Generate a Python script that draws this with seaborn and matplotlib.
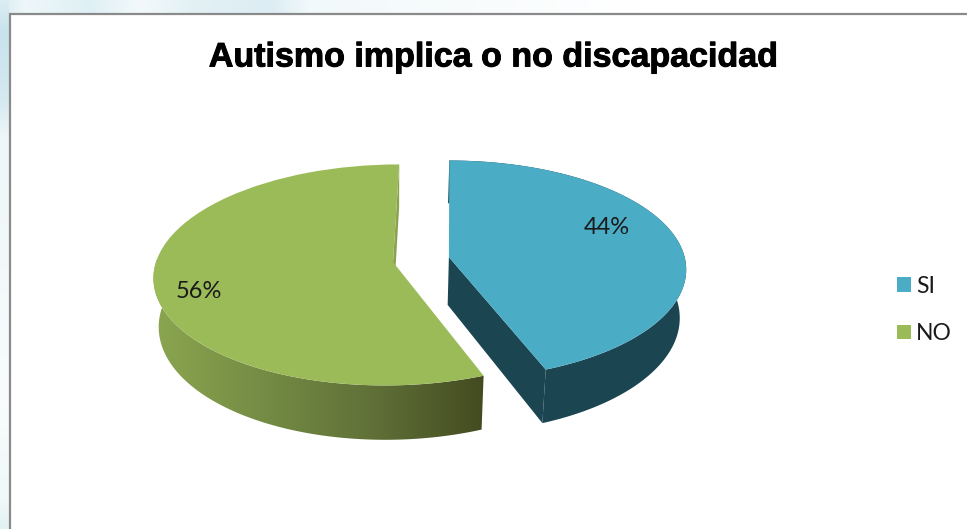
import numpy as np
import matplotlib
matplotlib.use("Agg")
import matplotlib.pyplot as plt
import matplotlib.patheffects as pe
from matplotlib.colors import LinearSegmentedColormap, to_rgb
from matplotlib.patches import Polygon
from matplotlib.transforms import Transform
import seaborn as sns

# Survey results
answers = ["SI", "NO"]
shares = [44, 56]
title = "Autismo implica o no discapacidad"

# Tilted-disc view, in pixels
CX, CY = 393.0, 262.0
RX, RY = 237.0, 109.0
PERSPECTIVE = 0.117
SHEAR = 7.0
DEPTH = 48.0
TAPER = 0.022
EXPLODE = 0.24


def project(u, v, z=0.0):
    w = 1.0 + PERSPECTIVE * np.asarray(v)
    scale = 1.0 - TAPER * z
    x = CX + (RX * np.asarray(u) + SHEAR * np.asarray(v)) * scale / w
    y = CY + (-RY * np.asarray(v) + DEPTH * z) / w
    return np.column_stack([np.ravel(x), np.ravel(y)])


class DiscProjection(Transform):
    input_dims = output_dims = 2

    def transform_non_affine(self, values):
        return project(values[:, 0], values[:, 1])


sns.set_theme(style="white")
palette = sns.color_palette(["#4bacc6", "#9bbb59"])
blue_side = "#1c4552"
green_face = "#8aa24d"
green_wall = LinearSegmentedColormap.from_list(
    "wall", ["#8ba650", "#748c44", "#5f7037", "#434b20"])

fig = plt.figure(figsize=(9.67, 5.29), dpi=100, facecolor="white")
ax = fig.add_axes([0, 0, 1, 1])

wedges, _, pct = ax.pie(
    shares, explode=[EXPLODE, 0], colors=palette, startangle=90, counterclock=False,
    autopct="%d%%", labels=None, wedgeprops={"linewidth": 0, "zorder": 5},
    textprops={"family": "Lato", "fontsize": 17, "color": "#1a1a1a", "zorder": 7},
)
ax.set_aspect("auto")
ax.set_xlim(0, 967)
ax.set_ylim(529, 0)
ax.set_axis_off()

to_data = DiscProjection() + ax.transData
for w in wedges:
    w.set_transform(to_data)


def rim(wedge, z):
    th = np.radians(np.linspace(wedge.theta1, wedge.theta2, 180))
    cu, cv = wedge.center
    return project(cu + np.cos(th), cv + np.sin(th), z)


def cut_face(wedge, angle):
    cu, cv = wedge.center
    eu, ev = cu + np.cos(np.radians(angle)), cv + np.sin(np.radians(angle))
    return np.vstack([project([cu, eu], [cv, ev], 0.0),
                      project([eu, cu], [ev, cv], 1.0)])


blue, green = wedges

# Blue slice walls: flat dark shade
ax.add_patch(Polygon(np.vstack([rim(blue, 0.0), rim(blue, 1.0)[::-1]]),
                     color=blue_side, lw=0, zorder=2))
ax.add_patch(Polygon(cut_face(blue, blue.theta1), color=blue_side, lw=0, zorder=2))

# Green slice walls: shaded from left to right
ax.add_patch(Polygon(cut_face(green, green.theta1), color=green_face, lw=0, zorder=2))
wall = Polygon(np.vstack([rim(green, 0.0), rim(green, 1.0)[::-1]]),
               facecolor="none", lw=0, transform=ax.transData)
ax.add_patch(wall)
img = ax.imshow(np.linspace(0, 1, 256)[None, :], cmap=green_wall, aspect="auto",
                extent=(152, 486, 440, 260), zorder=3, interpolation="bilinear")
img.set_clip_path(wall)

# Percentage labels
for text, xy in zip(pct, [(607, 228), (199, 292)]):
    text.set_position(xy)
    text.set_ha("center")
    text.set_va("center")

# Slide backdrop around the chart frame
def strip(stops, colours, n):
    pos = np.arange(n)
    rgb = np.array([to_rgb(c) for c in colours])
    return np.stack([np.interp(pos, stops, rgb[:, i]) for i in range(3)], axis=-1)


top = strip([0, 25, 90, 140, 190, 270, 310, 640, 967],
            ["#d8ecf3", "#eef7f9", "#dff0f5", "#f3f9fb", "#e3f1f5", "#dcedf3", "#f2f9fb",
             "#ffffff", "#ffffff"], 967)
ax.imshow(top[None, :, :], extent=(0, 967, 14, 0), aspect="auto", zorder=0)
left = strip([0, 30, 100, 135, 400, 500, 529],
             ["#dcedf3", "#c8e3ec", "#d5e9f0", "#eef6f9", "#f8fcfc", "#f0f8f9", "#e2f1f3"], 529)
ax.imshow(left[:, None, :], extent=(0, 9, 529, 0), aspect="auto", zorder=0)
ax.set_xlim(0, 967)
ax.set_ylim(529, 0)

# Chart frame, open at the bottom
ax.plot([10, 10, 967], [529, 14, 14], color="#8a8a8a", lw=1.6, zorder=1,
        solid_joinstyle="miter")

ax.text(493, 58, title, ha="center", va="center", family="Liberation Sans",
        fontweight="bold", fontsize=24.5, color="black", zorder=8,
        path_effects=[pe.withStroke(linewidth=0.7, foreground="black")])

ax.legend(wedges, answers, loc="center left", bbox_to_anchor=(0.9275, 0.414),
          frameon=False, handlelength=0.61, handleheight=0.61, handletextpad=0.24,
          labelspacing=1.15, borderpad=0, borderaxespad=0,
          prop={"family": "Lato", "size": 16.5}, labelcolor="#1a1a1a")

fig.savefig("out.png", dpi=100, facecolor="white")
